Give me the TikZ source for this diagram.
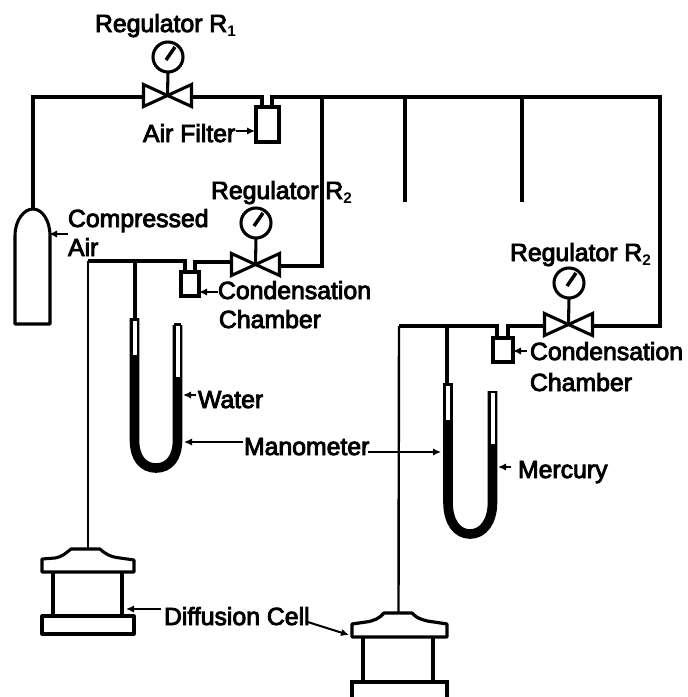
\documentclass[tikz,border=0pt]{standalone}
\usepackage{fontspec}
\usetikzlibrary{arrows.meta,calc}
\newfontfamily\lab{Liberation Sans}[FakeBold=3.5]
\newfontfamily\labsub{Liberation Sans Bold}
\newcommand{\subdig}[1]{\raisebox{-3.2pt}{\labsub\fontsize{11.5}{12}\selectfont #1}}
\tikzset{
  x=0.75pt,y=-0.75pt,
  pipe/.style={line width=2.3pt,line join=miter,line cap=butt},
  thinpipe/.style={line width=1.8pt},
  box/.style={draw,line width=2.3pt,inner sep=0pt,outer sep=0pt,rectangle,fill=white},
  dial/.style={draw,line width=2.3pt,circle,inner sep=0pt,outer sep=0pt,minimum size=22.5pt,fill=white},
  txt/.style={anchor=base west,inner sep=0pt,outer sep=0pt,font=\lab\fontsize{18.6}{20}\selectfont},
  arr/.style={line width=1.5pt,-{Latex[length=6pt,width=5.5pt]},shorten <=0pt},
  valveshape/.style={draw,line width=2.3pt,line join=miter,fill=white},
  hg/.style={line width=7.2pt,line cap=butt},
  bore/.style={fill=white,draw=none},
}
\newcommand{\valve}[4]{% name, cx, cy, halfwidth
  \coordinate (#1) at (#2,#3);
  \coordinate (#1L) at (#2-#4,#3);
  \coordinate (#1R) at (#2+#4,#3);
  \draw[valveshape] (#2-#4,#3-11) -- (#2+#4,#3+11) -- (#2+#4,#3-11) -- (#2-#4,#3+11) -- cycle;
}
\newcommand{\needle}[1]{%
  \draw[line width=2.6pt] ($(#1)+(-2,3)$) -- ($(#1)+(7,-10)$);
}
\begin{document}
\begin{tikzpicture}
\useasboundingbox (0,0) rectangle (688,697);
\fill[white] (0,0) rectangle (688,697);

% named junctions
\coordinate (cyltop) at (33,209);
\coordinate (c1) at (33,97);
\coordinate (main1) at (262,97);
\coordinate (main2) at (272,97);
\coordinate (mainend) at (660,97);
\coordinate (b1) at (322,97);
\coordinate (b2) at (405,97);
\coordinate (b2e) at (405,202);
\coordinate (b3) at (522,97);
\coordinate (b3e) at (522,202);
\coordinate (b1e) at (322,266);
\coordinate (e1) at (660,326);
\coordinate (top1) at (88,261);
\coordinate (tee1) at (135,261);
\coordinate (top2) at (399,326);
\coordinate (tee2) at (447,326);

% equipment boxes
\node[box,minimum width=17.25pt,minimum height=26.25pt] (filter) at (267.5,124.5) {};
\node[box,minimum width=13.5pt,minimum height=18pt] (chamberA) at (190,284) {};
\node[box,minimum width=15pt,minimum height=18pt] (chamberB) at (503,350) {};

% pipes
\draw[pipe] (cyltop) -- (c1) -- (143,97);
\draw[pipe] (192,97) -- (main1) -- (main1 |- filter.north);
\draw[pipe] (main2 |- filter.north) -- (main2) -- (mainend) -- (e1) -- (593,326);
\draw[pipe] (b1) -- (b1e) -- (279,266);
\draw[pipe] (b2) -- (b2e);
\draw[pipe] (b3) -- (b3e);
\draw[pipe] (232,262) -- (195,262) -- (195,272);
\draw[pipe] (185,272) -- (185,261) -- (top1);
\draw[thinpipe] (top1) -- (88,548);
\draw[pipe] (tee1) -- (135,318);
\draw[pipe] (545,326) -- (508,326) -- (508,338);
\draw[pipe] (497,338) -- (497,326) -- (top2);
\draw[thinpipe] (top2) -- (398.5,612);
\draw[pipe] (tee2) -- (447,384);

% valves
\valve{vA}{167.5}{95.5}{24}
\valve{vB}{255.5}{264.5}{24}
\valve{vC}{568.5}{324.5}{24}

% gauges
\node[dial] (gA) at (168,57) {};
\node[dial] (gB) at (256,223) {};
\node[dial] (gC) at (569,283) {};
\needle{gA}\needle{gB}\needle{gC}
\draw[pipe] (gA.south) -- (vA);
\draw[pipe] (gB.south) -- (vB);
\draw[pipe] (gC.south) -- (vC);

% cylinder
\draw[line width=2.3pt,line join=round] (15,324) -- (15,236) .. controls (15,220) and (24,209) .. (cyltop) .. controls (42,209) and (50,220) .. (50,236) -- (50,324) -- cycle;

% manometer A
\draw[hg] (134.5,318) -- (134.5,440) .. controls (134.5,458) and (143,468) .. (156,468) .. controls (169,468) and (177.5,458) .. (177.5,440) -- (177.5,325);
\fill[black] (173.7,323) rectangle (181.3,327);
\fill[bore] (132.5,321) rectangle (136.5,355);
\fill[bore] (175.5,326) rectangle (179.5,377);

% manometer B
\draw[hg] (448,383) -- (448,502) .. controls (448,522) and (457,534) .. (470,534) .. controls (483,534) and (492.5,522) .. (492.5,502) -- (492.5,391);
\fill[bore] (446,386) rectangle (450,420);
\fill[bore] (490.5,393) rectangle (494.5,444);

% diffusion cell A
\draw[line width=2.3pt,line join=round,fill=white] (42,572) -- (42,559) -- (55,558) .. controls (62,557) and (66,553) .. (71,549) -- (100,549) .. controls (104,553) and (110,557) .. (120,558) -- (134,560) -- (134,572) -- cycle;
\draw[line width=2.3pt] (53,572) -- (53,616);
\draw[line width=2.3pt] (122,572) -- (122,616);
\draw[line width=2.3pt,line join=round] (42,616) rectangle (134,634);

% diffusion cell B
\draw[line width=2.4pt,line join=round,fill=white] (352,637) -- (352,624) -- (366,622) .. controls (374,621) and (380,618) .. (384,613) -- (412,613) .. controls (416,618) and (424,621) .. (434,622) -- (447,624) -- (447,637) -- cycle;
\draw[line width=2.4pt] (363,637) -- (363,682);
\draw[line width=2.4pt] (433,637) -- (433,682);
\draw[line width=2.4pt] (352,697) -- (352,682) -- (447,682) -- (447,697);

% labels
\node[txt] (lR1) at (95,32) {Regulator R\subdig{1}};
\node[txt] (lR2) at (211,199) {Regulator R\subdig{2}};
\node[txt] (lR3) at (510,261) {Regulator R\subdig{2}};
\node[txt] (lAF) at (143,142) {Air Filter};
\node[txt] (lCA) at (68,227) {Compressed};
\node[txt] (lCB) at (68,256) {Air};
\node[txt] (lC1) at (218,299) {Condensation};
\node[txt] (lC1b) at (219,328) {Chamber};
\node[txt] (lC2) at (530,360) {Condensation};
\node[txt] (lC2b) at (530,391) {Chamber};
\node[txt] (lW) at (198,408) {Water};
\node[txt] (lM) at (244,455) {Manometer};
\node[txt] (lHg) at (518,478) {Mercury};
\node[txt] (lD) at (164,625) {Diffusion Cell};

% leader arrows
\coordinate (tipCyl) at (49,234);
\coordinate (tipManA) at (184,442);
\coordinate (tipManB) at (441,452);
\coordinate (tipW) at (183,395);
\coordinate (tipHg) at (498,467);
\coordinate (tipD1) at (126,609);
\coordinate (tipD2) at (349,635);
\coordinate (tipF) at (255,131);
\coordinate (tailF) at (236,131);
\draw[arr] (tailF) -- (tipF);
\draw[arr] (68,234) -- (tipCyl);
\draw[arr] (lC1.base west) ++(0,-7) -- (chamberA.east |- 0,292);
\draw[arr] (lC2.base west) ++(-3,-9) -- (chamberB.east |- 0,351);
\draw[arr] (lW.base west) ++(-2,-13) -- (tipW);
\draw[arr] (lM.base west) ++(-1,-13) -- (tipManA);
\draw[arr] (lM.base east) ++(-1,-3) -- (tipManB);
\draw[arr] (lHg.base west) ++(-7,-11) -- (tipHg);
\draw[arr] (lD.base west) ++(-3,-16) -- (tipD1);
\draw[arr] (lD.base east) ++(-2,-3) -- (tipD2);
\end{tikzpicture}
\end{document}
